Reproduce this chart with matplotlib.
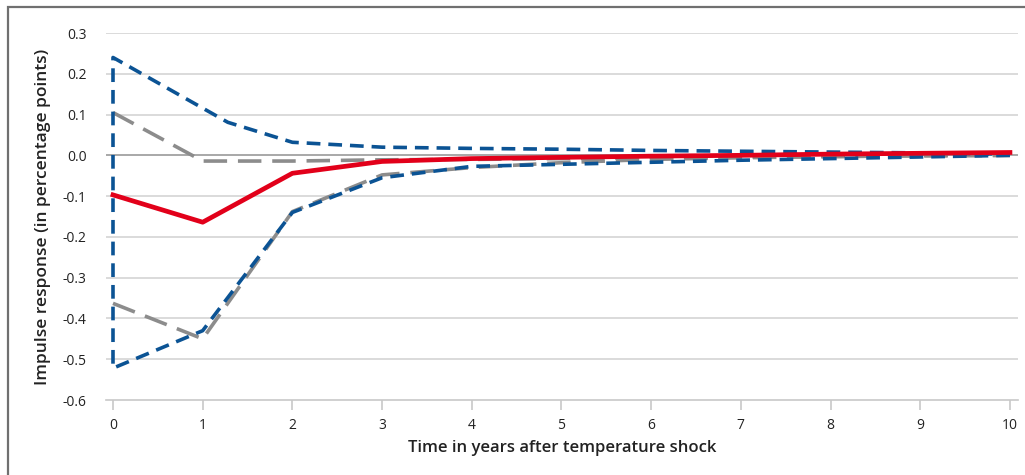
import numpy as np
import matplotlib
matplotlib.use("Agg")
import matplotlib.pyplot as plt
from matplotlib.patches import Rectangle

plt.rcParams['font.family'] = ['Open Sans', 'DejaVu Sans']

# point estimate and bands
years = [0, 1, 2, 3, 4, 5, 6, 7, 8, 9, 10]
response = [-0.097, -0.164, -0.044, -0.015, -0.008, -0.005, -0.002, 0.0, 0.003, 0.005, 0.007]

# blue band (upper has an extra bend a bit after year 1)
blue_up_x = [0, 1.28, 2, 3, 4, 5, 6, 7, 8, 9, 10]
blue_up = [0.24, 0.081, 0.032, 0.02, 0.017, 0.015, 0.012, 0.01, 0.008, 0.006, 0.003]
blue_low = [-0.522, -0.43, -0.14, -0.055, -0.027, -0.022, -0.017, -0.012, -0.008, -0.004, 0.0]

# grey band
grey_up = [0.105, -0.014, -0.014, -0.011, -0.01, -0.008, -0.006, -0.004, -0.003, -0.001, 0.0]
grey_low = [-0.363, -0.45, -0.138, -0.048, -0.03, -0.018, -0.01, -0.006, -0.003, -0.001, 0.0]

yticks = [0.3, 0.2, 0.1, 0.0, -0.1, -0.2, -0.3, -0.4, -0.5, -0.6]

blue = '#0b5394'
grey = '#8c8c8c'
red = '#e2001a'

fig = plt.figure(figsize=(10.25, 4.75), dpi=100)
ax = fig.add_axes([106/1025, 75/475, 912/1025, 367/475])

# outer frame (only top and left edges are visible)
fig.patches.append(Rectangle((8/1025, -0.1), 1.2, 1.1 - 7/475, transform=fig.transFigure,
                             fill=False, edgecolor='#707070', linewidth=1.6, zorder=0))

for v in yticks:
    if v == 0.0:
        ax.axhline(v, color='#9a9a9a', lw=1.2, zorder=1)
    elif v != -0.6:
        ax.axhline(v, color='#d4d4d4', lw=1.2, zorder=1)

# blue band drawn as one path: lower from the end back to 0, then up and along the upper
bx = years[::-1] + blue_up_x
by = blue_low[::-1] + blue_up
ax.plot(bx, by, color=blue, lw=2.6, dashes=(3.8, 2.2), zorder=3)

ax.plot(years, grey_up, color=grey, lw=2.6, dashes=(6.5, 3.0), zorder=2)
ax.plot(years, grey_low, color=grey, lw=2.6, dashes=(6.5, 3.0), zorder=2)

ax.plot(years, response, color=red, lw=3.4, zorder=4)

ax.set_xlim(-0.078, 10.09)
ax.set_ylim(-0.6, 0.3)
ax.set_xticks(years)
ax.set_xticklabels([str(y) for y in years])
ax.set_yticks(yticks)
ax.set_yticklabels(['%.1f' % v for v in yticks])

for s in ['top', 'right', 'left']:
    ax.spines[s].set_visible(False)
ax.spines['bottom'].set_color('#c8c8c8')
ax.spines['bottom'].set_linewidth(1.2)

ax.tick_params(axis='x', length=7, width=1.2, color='#c8c8c8', labelsize=10, pad=6, labelcolor='#222222')
ax.tick_params(axis='y', length=0, labelsize=10, pad=14, labelcolor='#222222')

ax.set_xlabel('Time in years after temperature shock', fontsize=12, fontweight='semibold',
              color='#222222', labelpad=5)
ax.set_ylabel('Impulse response (in percentage points)', fontsize=12.5, fontweight='semibold',
              color='#222222', labelpad=8)

fig.savefig('out.png', dpi=100)
